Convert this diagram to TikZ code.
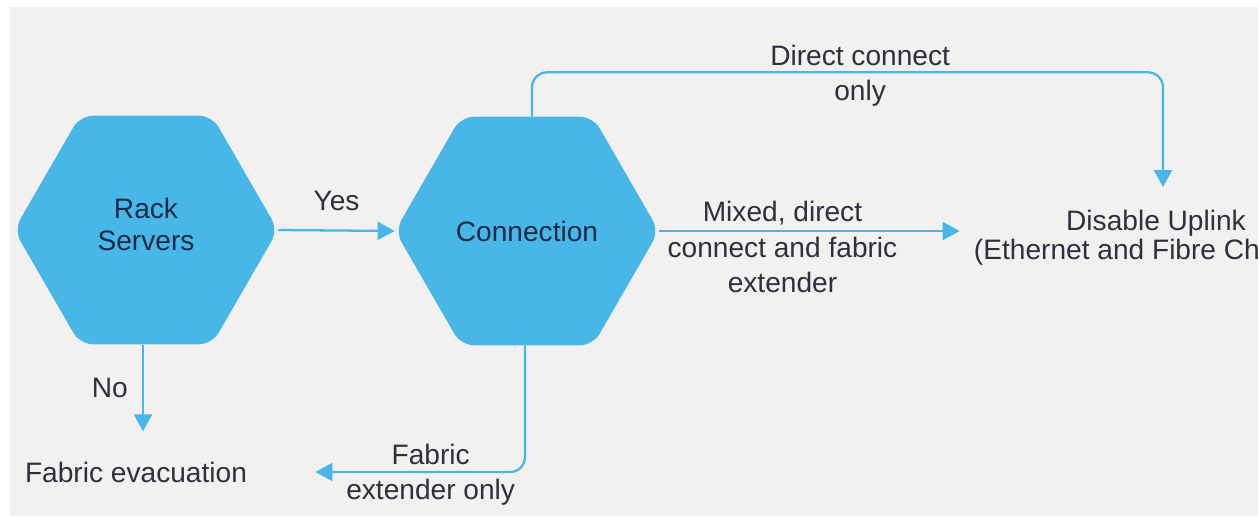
\documentclass[tikz,border=0pt]{standalone}
\usepackage{fontspec}
\setmainfont{Liberation Sans}
\usetikzlibrary{shapes.geometric,arrows.meta,calc}
\definecolor{hexblue}{HTML}{49B6E8}
\definecolor{hexink}{HTML}{1C2B48}
\definecolor{txtink}{HTML}{2E303C}
\definecolor{paper}{HTML}{F2F1F0}
\begin{document}
\begin{tikzpicture}[x=0.02cm,y=-0.02cm,
  hexa/.style={regular polygon,regular polygon sides=6,minimum size=5.28cm,inner sep=0pt,
    fill=hexblue,rounded corners=0.26cm,text=hexink,align=center,font=\fontsize{16}{18.2}\selectfont},
  lbl/.style={text=txtink,align=center,inner sep=0pt,font=\fontsize{16}{20}\selectfont},
  flow/.style={draw=hexblue,line width=1.3pt,rounded corners=0.3cm,
    -{Triangle[length=0.34cm,width=0.36cm]}}]
\useasboundingbox (0,0) rectangle (1258,517);
\clip (0,0) rectangle (1258,517);
\fill[paper] (10,7) rectangle (1258,516);
\node[hexa,text depth=0.24cm] (rack) at (146,230) {Rack\\Servers};
\node[hexa] (conn) at (527,231) {Connection};
\node[lbl] (fevac) at (136,472) {Fabric evacuation};
\node[lbl,font=\fontsize{16}{16.5}\selectfont] (uplink) at (1156,238)
  {Disable Uplink\\(Ethernet and Fibre Channel)};
\draw[flow] (rack.east) -- node[lbl,midway,yshift=0.6cm] {Yes} (conn.west);
\draw[flow] ([xshift=-0.06cm]rack.south) -- node[lbl,midway,left=0.28cm] {No}
  ($([xshift=-0.06cm]rack.south |- fevac.north)+(0,-30)$);
\draw[flow] ([xshift=0.1cm]conn.north) -- ++(0,-44) -| node[lbl,pos=0.26,yshift=-0.06cm] {Direct connect\\only}
  ($(uplink.north)+(7,-23)$);
\draw[flow] (conn.east) -- node[lbl,pos=0.41,yshift=-0.32cm] {Mixed, direct\\connect and fabric\\extender}
  ($(conn.east -| uplink.west)+(-14,0)$);
\draw[flow] ([xshift=-0.04cm]conn.south) |- node[lbl,pos=0.725,yshift=-0.05cm] {Fabric\\extender only}
  ($(fevac.east)+(68,0)$);
\end{tikzpicture}
\end{document}
